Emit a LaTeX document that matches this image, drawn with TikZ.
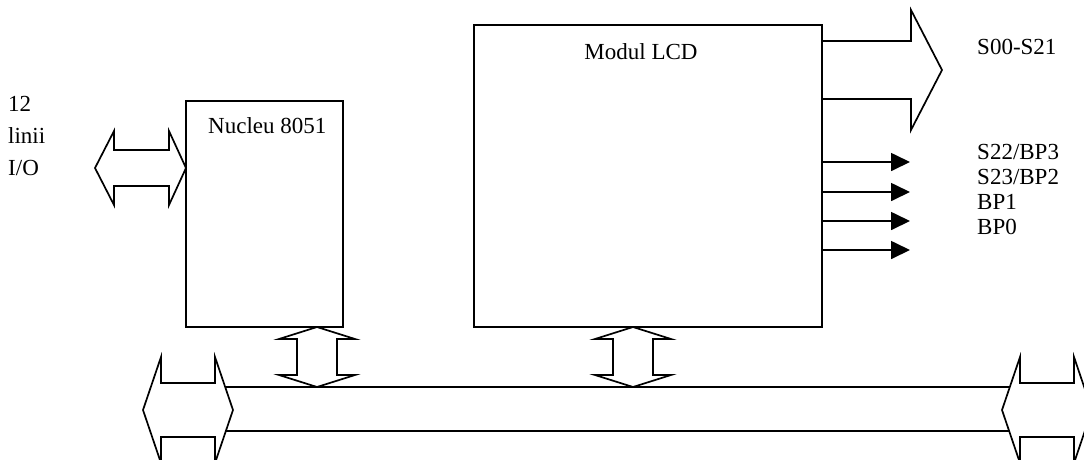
\documentclass[tikz,border=0pt]{standalone}
\usepackage{fontspec}
\setmainfont{Liberation Serif}
\usetikzlibrary{arrows.meta,calc}
\begin{document}
\begin{tikzpicture}[x=1pt,y=-1pt,
  line join=miter,
  lw/.style={line width=1.7pt},
  block/.style={draw, lw, inner sep=0pt, outer sep=0pt},
  blk/.style={draw, lw, fill=white},
  txt/.style={inner sep=0pt, font=\fontsize{23}{26}\selectfont},
  sigarrow/.style={draw, lw, -{Triangle[length=19pt,width=18pt]}},
  % horizontal double arrow of the bus ends, left tip at the origin
  busend/.pic={\draw[blk] (0,0) -- (18,-53) -- (18,-27) -- (72,-27) -- (72,-53)
      -- (90,0) -- (72,53) -- (72,27) -- (18,27) -- (18,53) -- cycle;},
  % vertical double arrow between a block and the bus, top tip at the origin
  buslink/.pic={\draw[blk] (0,0) -- (38,12) -- (20,12) -- (20,48) -- (38,48)
      -- (0,60) -- (-38,48) -- (-20,48) -- (-20,12) -- (-38,12) -- cycle;}]
\useasboundingbox (0,0) rectangle (1084,459);
\clip (0,0) rectangle (1084,459);

% blocks
\node[block, minimum width=157pt, minimum height=226pt] (nucleu) at (264.5,214) {};
\node[block, minimum width=348pt, minimum height=302pt] (lcd) at (648,176) {};
\node[txt, anchor=west] (nucleulbl) at ($(nucleu.north west)+(22,25)$) {Nucleu 8051};
\node[txt] (lcdlbl) at ($(lcd.north)+(-7,27)$) {Modul LCD};

% system bus: two rails between the end arrows
\coordinate (busL) at (143,410);
\coordinate (busR) at (1002,410);
\draw[lw] ($(busL)+(45,-23)$) -- ($(busR)+(45,-23)$);
\draw[lw] ($(busL)+(45,21)$) -- ($(busR)+(45,21)$);
\pic (busleft) at (busL) {busend};
\pic (busright) at (busR) {busend};

% links between blocks and bus
\pic (nucleulink) at ($(nucleu.south east)+(-26,0)$) {buslink};
\pic (lcdlink) at ($(lcd.south west)+(159,0)$) {buslink};

% I/O port arrow
\coordinate (iotip) at ($(nucleu.north west)+(0,67)$);
\draw[blk] (iotip) -- ++(-17,-37) -- ++(0,19) -- ++(-55,0) -- ++(0,-19) -- ++(-19,37)
  -- ++(19,37) -- ++(0,-19) -- ++(55,0) -- ++(0,19) -- cycle;
\node[txt, anchor=west, align=left, font=\fontsize{23}{32}\selectfont] (iolbl) at (8,136)
  {12\\linii\\I/O};

% segment outputs
\coordinate (segout) at ($(lcd.north east)+(0,16)$);
\draw[lw] (segout) -- ++(89,0) -- ++(0,-31) -- ++(31,60) -- ++(-31,60) -- ++(0,-31) -- ++(-89,0);
\node[txt, anchor=west] (seglbl) at (977,47) {S00-S21};

% single signal outputs
\foreach \o/\n in {137/a,167/b,196/c,225/d}
  \draw[sigarrow] ($(lcd.north east)+(0,\o)$) coordinate (sig\n) -- ++(88,0);
\node[txt, anchor=west, align=left, font=\fontsize{23}{25}\selectfont] (siglbl) at (977,189)
  {S22/BP3\\S23/BP2\\BP1\\BP0};
\end{tikzpicture}
\end{document}
